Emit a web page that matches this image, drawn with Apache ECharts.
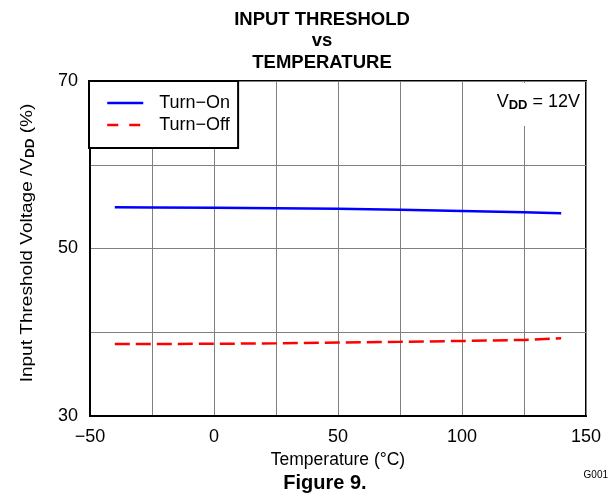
<!DOCTYPE html>
<html>
<head>
<meta charset="utf-8">
<script src="https://cdn.jsdelivr.net/npm/echarts@6/dist/echarts.min.js"></script>
<style>
html,body{margin:0;padding:0;background:#fff;}
#chart{width:610px;height:500px;}
</style>
</head>
<body>
<div id="chart"></div>
<script>
var temps = [-40, -25, 0, 25, 50, 75, 100, 125, 140];
var turnOn = [54.92, 54.90, 54.86, 54.82, 54.76, 54.62, 54.48, 54.32, 54.20];
var turnOff = [38.60, 38.60, 38.62, 38.68, 38.78, 38.86, 38.96, 39.08, 39.28];
var xTickLabels = [-50, 0, 50, 100, 150];
var yTickLabels = [30, 50, 70];
var seriesNames = ['Turn\u2212On', 'Turn\u2212Off'];

function pairs(xs, ys) { return xs.map(function (x, i) { return [x, ys[i]]; }); }
var FONT = '"Liberation Sans", Arial, sans-serif';

var chart = echarts.init(document.getElementById('chart'), null, {renderer: 'canvas'});
chart.setOption({
  animation: false,
  backgroundColor: '#fff',
  textStyle: {fontFamily: FONT, color: '#000'},
  grid: {left: 90, right: 24, top: 81, bottom: 84, show: true, borderColor: '#000', borderWidth: 2, backgroundColor: 'transparent'},
  xAxis: {
    type: 'value', min: -50, max: 150, interval: 25,
    name: 'Temperature (\u00B0C)', nameLocation: 'middle', nameGap: 33,
    nameTextStyle: {fontSize: 17.5, fontFamily: FONT, color: '#000'},
    axisLine: {show: true, onZero: false, lineStyle: {color: '#000', width: 2}},
    axisTick: {show: false},
    axisLabel: {fontSize: 18, fontFamily: FONT, color: '#000', margin: 12,
      formatter: function (v) { return xTickLabels.indexOf(v) >= 0 ? String(v).replace('-', '\u2212') : ''; }},
    splitLine: {show: true, lineStyle: {color: '#808080', width: 1}}
  },
  yAxis: {
    type: 'value', min: 30, max: 70, interval: 10,
    axisLine: {show: true, onZero: false, lineStyle: {color: '#000', width: 2}},
    axisTick: {show: false},
    axisLabel: {fontSize: 18, fontFamily: FONT, color: '#000', margin: 12,
      formatter: function (v) { return yTickLabels.indexOf(v) >= 0 ? String(v) : ''; }},
    splitLine: {show: true, lineStyle: {color: '#808080', width: 1}}
  },
  legend: {
    left: 89, top: 81, orient: 'vertical',
    data: [
      {name: seriesNames[0]},
      {name: seriesNames[1], lineStyle: {type: [11, 11]}}
    ],
    itemWidth: 36, itemHeight: 14, itemGap: 4,
    padding: [13, 8, 14, 17],
    borderColor: '#000', borderWidth: 2, backgroundColor: '#fff',
    itemStyle: {opacity: 0},
    lineStyle: {width: 2.5},
    textStyle: {fontSize: 18, fontFamily: FONT, color: '#000', padding: [0, 0, 0, 11]},
    z: 20
  },
  graphic: [
    {type: 'text', z: 30,
      style: {text: 'INPUT THRESHOLD\nvs\nTEMPERATURE', x: 322, y: 9, textAlign: 'center',
        fontSize: 18.5, fontWeight: 'bold', fontFamily: FONT, lineHeight: 21.5, fill: '#000'}},
    {type: 'text', z: 30, x: 27, y: 243, rotation: Math.PI / 2, scaleX: 1.12,
      style: {text: 'Input Threshold Voltage /V{sub|DD} (%)', x: 0, y: 0, textAlign: 'center', textVerticalAlign: 'middle',
        fontSize: 17, fontFamily: FONT, fill: '#000',
        rich: {sub: {fontSize: 12, fontWeight: 'bold', fontFamily: FONT, padding: [7, 0, 0, 0]}}}},
    {type: 'text', z: 30,
      style: {text: 'Figure 9.', x: 325, y: 473, textAlign: 'center', fontSize: 20, fontWeight: 'bold', fontFamily: FONT, fill: '#000'}},
    {type: 'text', z: 30,
      style: {text: 'G001', x: 608, y: 470, textAlign: 'right', fontSize: 10, fontFamily: FONT, fill: '#000'}},
    {type: 'rect', z: 25, shape: {x: 470, y: 83, width: 115, height: 43}, style: {fill: '#fff'}},
    {type: 'text', z: 30,
      style: {text: 'V{sub|DD} = 12V', x: 580, y: 92, textAlign: 'right',
        fontSize: 18, fontFamily: FONT, fill: '#000',
        rich: {sub: {fontSize: 13, fontWeight: 'bold', fontFamily: FONT, padding: [7, 0, 0, 0]}}}}
  ],
  series: [
    {name: seriesNames[0], type: 'line', data: pairs(temps, turnOn), symbol: 'none', smooth: false,
      lineStyle: {color: '#0000ff', width: 2.5}, itemStyle: {color: '#0000ff'}, z: 5},
    {name: seriesNames[1], type: 'line', data: pairs(temps, turnOff), symbol: 'none', smooth: false,
      lineStyle: {color: '#ff0000', width: 2.5, type: [15, 6]}, itemStyle: {color: '#ff0000'}, z: 5}
  ]
});
</script>
</body>
</html>
